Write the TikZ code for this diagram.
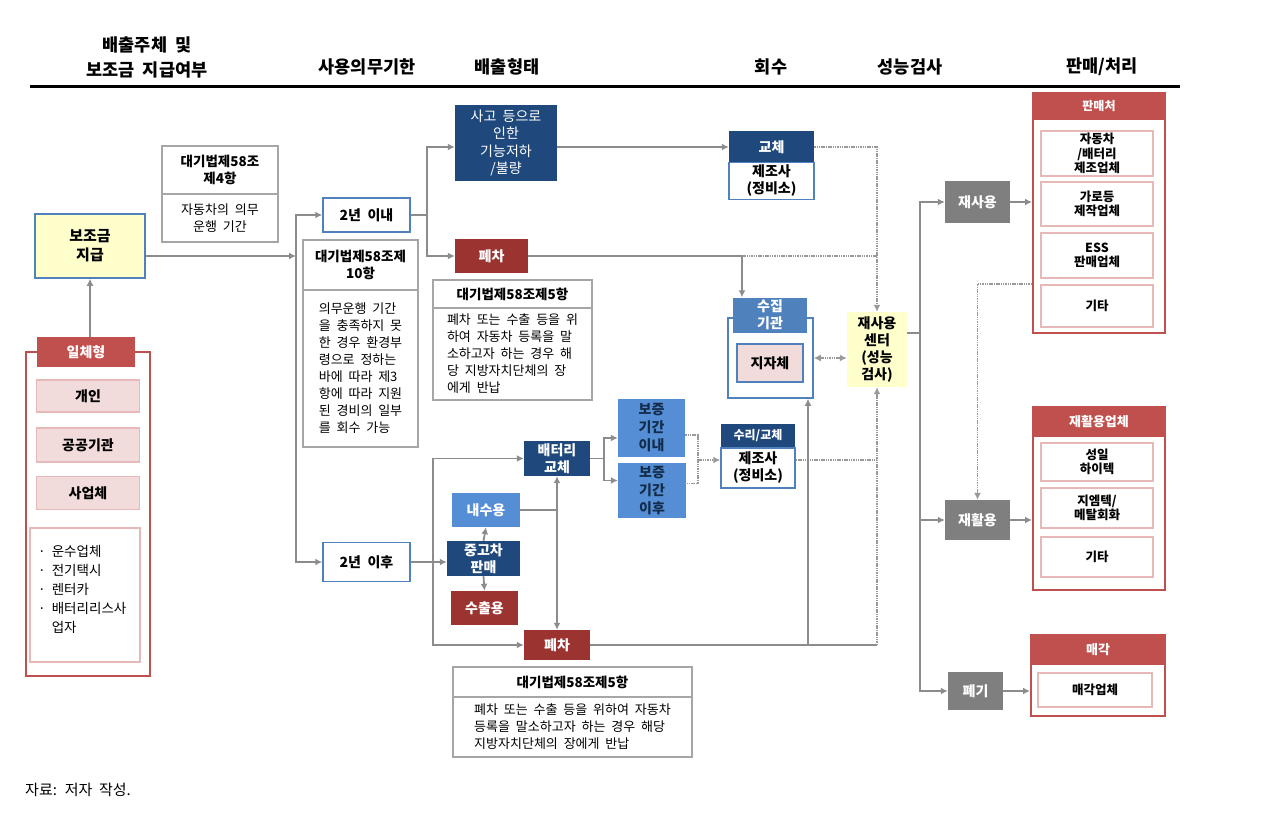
\documentclass[tikz,border=0pt]{standalone}
\usepackage{fontspec}
\setmainfont[WordSpace=2]{Noto Sans CJK KR}
\usetikzlibrary{arrows.meta,positioning,calc}

\definecolor{navy}{HTML}{1F497D}
\definecolor{darkred}{HTML}{9B3331}
\definecolor{midblue}{HTML}{558ED5}
\definecolor{steel}{HTML}{4F81BD}
\definecolor{boxgray}{HTML}{7F7F7F}
\definecolor{redhead}{HTML}{C0504D}
\definecolor{pinkfill}{HTML}{F2DCDB}
\definecolor{pinkline}{HTML}{E6B9B8}
\definecolor{yelfill}{HTML}{FFFFCC}
\definecolor{lawgray}{HTML}{A6A6A6}
\definecolor{linegray}{HTML}{8C8C8C}
\definecolor{dotgray}{HTML}{999999}

\newcommand\fsz[2]{\fontsize{#1}{#2}\selectfont}

\tikzset{
  base/.style={inner sep=0pt, align=center, font=\fsz{14}{17}\bfseries},
  hdr/.style={inner sep=0pt, align=center, font=\fsz{17.5}{25}\bfseries},
  navybox/.style={base, fill=navy, text=white},
  redbox/.style={base, fill=darkred, text=white},
  bluebox/.style={base, fill=midblue, text=white},
  graybox/.style={base, fill=boxgray, text=white},
  yelbox/.style={base, fill=yelfill},
  wbox/.style={base, fill=white, draw=steel, line width=1.5pt},
  lawhead/.style={base, font=\fsz{13.5}{17}\bfseries, fill=white, draw=lawgray, line width=1.2pt},
  lawtext/.style={lawhead, font=\fsz{13}{17}, align=left},
  pinkbox/.style={base, fill=pinkfill, draw=pinkline, line width=1.5pt},
  redframe/.style={inner sep=0pt, fill=white, draw=redhead, line width=2pt},
  redhd/.style={base, fill=redhead, text=white, font=\fsz{12}{14}\bfseries},
  shopbox/.style={base, fill=white, draw=pinkline, line width=2.5pt, font=\fsz{12.5}{14.5}\bfseries},
  flow/.style={draw=linegray, line width=1.8pt, -{Latex[length=7pt,width=7pt]}},
  link/.style={draw=linegray, line width=1.8pt},
  dots/.style={draw=dotgray, line width=1.8pt, dash pattern=on 1.5pt off 0.8pt},
  dotflow/.style={dots, -{Latex[length=7pt,width=7pt]}},
  dotboth/.style={dots, {Latex[length=7pt,width=7pt]}-{Latex[length=7pt,width=7pt]}}
}

\begin{document}
\begin{tikzpicture}[x=1pt,y=-1pt]
\useasboundingbox (0,0) rectangle (1279,813);

% headings
\node[hdr] (hsub) at (147,57) {배출주체 및\\보조금 지급여부};
\node[hdr] (hterm) at (367,67) {사용의무기한};
\node[hdr] (htype) at (507,67) {배출형태};
\node[hdr] (hcoll) at (771,67) {회수};
\node[hdr] (htest) at (910,67) {성능검사};
\node[hdr] (hsell) at (1102,67) {판매/처리};
\draw[line width=3pt] (30,87) -- (1180,87);

% left column
\node[yelbox, font=\fsz{15}{19}\bfseries, draw=steel, line width=1.5pt, minimum width=110pt, minimum height=64pt] (subsidy) at (90,246) {보조금\\지급};
\node[redframe, minimum width=124pt, minimum height=324pt] (oneframe) at (88,514) {};
\node[redhd, font=\fsz{14}{16}\bfseries, minimum width=98pt, minimum height=30pt] (onehead) at (86,352) {일체형};
\node[pinkbox, minimum width=103pt, minimum height=32pt] (person) at (88,396) {개인};
\node[pinkbox, minimum width=103pt, minimum height=34pt] (public) at (88,445) {공공기관};
\node[pinkbox, minimum width=103pt, minimum height=33pt] (biz) at (88,493) {사업체};
\node[redframe, draw=pinkline, minimum width=110pt, minimum height=134pt] (users) at (85,595) {};
\node[font=\fsz{13.5}{19}, align=left, anchor=north west, inner sep=0pt] (userlist) at (38,545)
  {· 운수업체\\· 전기택시\\· 렌터카\\· 배터리리스사\\\phantom{· }업자};
\draw[flow] (subsidy.south |- onehead.north) -- (subsidy.south);

% law boxes
\node[lawhead, minimum width=116pt, minimum height=48pt] (law4a) at (220,170) {대기법제58조\\제4항};
\node[lawhead, font=\fsz{13}{17}, minimum width=116pt, minimum height=48pt] (law4b) at (220,218) {자동차의 의무\\운행 기간};
\node[lawhead, minimum width=115pt, minimum height=50pt] (law10a) at (360.5,265) {대기법제58조제\\10항};
\node[lawtext, minimum width=115pt, minimum height=157pt] (law10b) at (360.5,368.5)
  {의무운행 기간\\을 충족하지 못\\한 경우 환경부\\령으로 정하는\\바에 따라 제3\\항에 따라 지원\\된 경비의 일부\\를 회수 가능};

% term
\node[wbox, minimum width=87pt, minimum height=34pt] (in2) at (366.5,215) {2년 이내};
\node[wbox, minimum width=87pt, minimum height=39pt] (out2) at (366.5,562) {2년 이후};
\coordinate (split1) at (296,256);
\draw[flow] (subsidy.east |- split1) -- (split1);
\draw[flow] (split1) |- (in2.west);
\draw[flow] (split1) |- (out2.west);

% upper discharge
\node[navybox, font=\fsz{14}{17.5}, minimum width=102pt, minimum height=76pt] (accident) at (506,143) {사고 등으로\\인한\\기능저하\\/불량};
\node[redbox, minimum width=73pt, minimum height=34pt] (scrap1) at (491.5,256) {폐차};
\node[lawhead, minimum width=159pt, minimum height=28pt] (law5a) at (512.5,294) {대기법제58조제5항};
\node[lawtext, minimum width=159pt, minimum height=92pt] (law5b) at (512.5,354)
  {폐차 또는 수출 등을 위\\하여 자동차 등록을 말\\소하고자 하는 경우 해\\당 지방자치단체의 장\\에게 반납};

% collection
\node[navybox, minimum width=85pt, minimum height=31pt] (exchH) at (771.5,147) {교체};
\node[wbox, minimum width=85pt, minimum height=37pt] (exchB) at (771.5,181) {제조사\\(정비소)};
\node[wbox, minimum width=85pt, minimum height=80pt] (collectF) at (770.5,358) {};
\node[base, fill=steel, text=white, minimum width=74pt, minimum height=35pt] (collectH) at (770,315) {수집\\기관};
\node[pinkbox, draw=steel, minimum width=66pt, minimum height=38pt] (localgov) at (770,363) {지자체};
\node[yelbox, minimum width=60pt, minimum height=75pt] (center) at (877,349.5) {재사용\\센터\\(성능\\검사)};

\coordinate (split2) at (427,215);
\draw[link] (in2.east) -- (split2);
\draw[flow] (split2) |- (accident.west |- exchH.west);
\draw[flow] (split2) |- (scrap1.west);
\draw[flow] (accident.east |- exchH.west) -- (exchH.west);
\coordinate (c1) at (742,256);
\draw[flow] (scrap1.east) -- (c1) -- (c1 |- collectH.north);
\draw[dotflow] (exchH.east) -| (center.north);
\draw[dots] (c1) -- (c1 -| center.north);
\draw[dotboth] (collectF.east) -- (collectF.east -| center.west);

% lower discharge
\node[navybox, minimum width=66pt, minimum height=35pt] (battx) at (557,458.5) {배터리\\교체};
\node[bluebox, minimum width=68pt, minimum height=34pt] (domestic) at (486,510) {내수용};
\node[navybox, minimum width=73pt, minimum height=35pt] (used) at (483.5,558.5) {중고차\\판매};
\node[redbox, minimum width=67pt, minimum height=34pt] (export) at (484.5,608) {수출용};
\node[redbox, minimum width=66pt, minimum height=30pt] (scrap2) at (557,645) {폐차};
\node[lawhead, minimum width=239pt, minimum height=30pt] (law5c) at (572.5,682) {대기법제58조제5항};
\node[lawtext, minimum width=239pt, minimum height=60pt] (law5d) at (572.5,727)
  {폐차 또는 수출 등을 위하여 자동차\\등록을 말소하고자 하는 경우 해당\\지방자치단체의 장에게 반납};
\node[bluebox, text=navy!60!black, font=\fsz{14}{18}\bfseries, minimum width=67pt, minimum height=58pt] (wIn) at (651.5,428) {보증\\기간\\이내};
\node[bluebox, text=navy!60!black, font=\fsz{14}{18}\bfseries, minimum width=68pt, minimum height=55pt] (wOut) at (652,490.5) {보증\\기간\\이후};
\node[navybox, font=\fsz{12}{14}\bfseries, minimum width=74pt, minimum height=24pt] (repH) at (758,436) {수리/교체};
\node[wbox, minimum width=74pt, minimum height=40pt] (repB) at (758,468) {제조사\\(정비소)};

\coordinate (split4) at (433,562);
\draw[flow] (out2.east) -- (out2.east -| used.west);
\draw[flow] (split4) |- (battx.west);
\draw[flow] (split4) |- (scrap2.west);
\draw[flow] (used.north) -- (domestic.south);
\draw[flow] (used.south) -- (export.north);
\coordinate (j1) at (battx.south |- domestic.east);
\draw[link] (domestic.east) -- (j1);
\draw[flow] (j1) -- (battx.south);
\draw[flow] (j1) -- (scrap2.north);
\coordinate (split5) at (604,458.5);
\draw[link] (battx.east) -- (split5);
\draw[flow] (split5) |- ([yshift=-10pt]wIn.west);
\draw[flow] (split5) |- ([yshift=10pt]wOut.west);
\coordinate (d3) at (698,460);
\draw[dots] ([yshift=-7pt]wIn.east) -| (d3) |- ([yshift=7pt]wOut.east);
\draw[dotflow] (d3) -- (d3 -| repB.west);
\draw[dots] (repB.east |- d3) -- (d3 -| center.south);
\coordinate (c2) at (808,645);
\draw[flow] (scrap2.east) -- (c2) -- (c2 |- collectF.south);
\draw[link] (c2) -- (c2 -| center.south);
\draw[dotflow] (c2 -| center.south) -- (center.south);

% treatment
\node[graybox, minimum width=65pt, minimum height=41pt] (reuse) at (977.5,202) {재사용};
\node[graybox, minimum width=65pt, minimum height=40pt] (recyc) at (977.5,520) {재활용};
\node[graybox, minimum width=55pt, minimum height=38pt] (disp) at (975.5,691) {폐기};
\coordinate (split3) at (920,333);
\draw[link] (center.east |- split3) -- (split3);
\draw[flow] (split3) |- (reuse.west);
\draw[flow] (split3) |- (recyc.west);
\draw[flow] (split3) |- (disp.west);

% buyers
\node[redframe, minimum width=132pt, minimum height=240pt] (sellF) at (1099,213) {};
\node[redhd, minimum width=132pt, minimum height=27pt] (sellH) at (1099,106.5) {판매처};
\node[shopbox, minimum width=112pt, minimum height=45pt] (s1) at (1097,153.5) {자동차\\/배터리\\제조업체};
\node[shopbox, minimum width=112pt, minimum height=44pt] (s2) at (1097,204) {가로등\\제작업체};
\node[shopbox, minimum width=112pt, minimum height=45pt] (s3) at (1097,255.5) {ESS\\판매업체};
\node[shopbox, minimum width=112pt, minimum height=42pt] (s4) at (1097,306) {기타};

\node[redframe, minimum width=132pt, minimum height=183pt] (recF) at (1099,498.5) {};
\node[redhd, font=\fsz{13}{15}\bfseries, minimum width=132pt, minimum height=30pt] (recH) at (1099,422) {재활용업체};
\node[shopbox, minimum width=112pt, minimum height=38pt] (r1) at (1097,462) {성일\\하이텍};
\node[shopbox, minimum width=112pt, minimum height=40pt] (r2) at (1097,508) {지엠텍/\\메탈회화};
\node[shopbox, minimum width=112pt, minimum height=40pt] (r3) at (1097,557) {기타};

\node[redframe, minimum width=134pt, minimum height=81pt] (saleF) at (1098,675.5) {};
\node[redhd, font=\fsz{13}{15}\bfseries, minimum width=134pt, minimum height=30pt] (saleH) at (1098,650) {매각};
\node[shopbox, minimum width=114pt, minimum height=34pt] (sa1) at (1095,690) {매각업체};

\draw[flow] (reuse.east) -- (reuse.east -| sellF.west);
\draw[flow] (recyc.east) -- (recyc.east -| recF.west);
\draw[flow] (disp.east) -- (disp.east -| saleF.west);
\draw[dotflow] (s4.north -| sellF.west) -| (recyc.north);

% source
\node[anchor=west, inner sep=0pt, font=\fsz{15}{17}] (source) at (25,790) {자료: 저자 작성.};
\end{tikzpicture}
\end{document}
